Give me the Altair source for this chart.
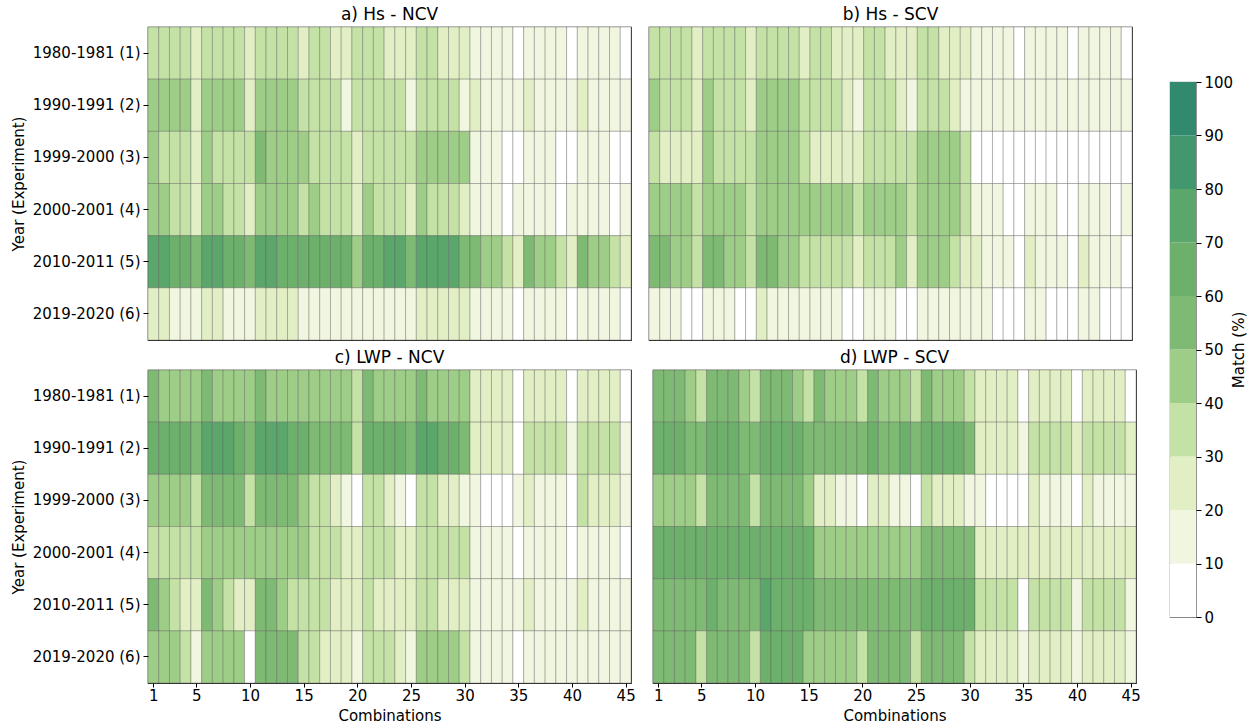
import altair as alt
import pandas as pd

FONT = "DejaVu Sans"

YEARS = ["1980-1981 (1)", "1990-1991 (2)", "1999-2000 (3)",
         "2000-2001 (4)", "2010-2011 (5)", "2019-2020 (6)"]
COMBOS = list(range(1, 46))
X_TICKS = [1, 5, 10, 15, 20, 25, 30, 35, 40, 45]
TITLES = ["a) Hs - NCV", "b) Hs - SCV", "c) LWP - NCV", "d) LWP - SCV"]

# Match (%) per experiment (rows) and combination (columns)
HS_NCV = [
    [35,35,35,35,25, 35,35,35,35,25, 35,35,35,35,25, 35,35,25,25,35, 35,35,25,25,25, 35,35,25,25,25, 15,15,15,15,5, 15,15,15,15,5, 15,15,15,15,5],
    [45,45,45,45,25, 45,45,45,45,25, 45,45,45,45,35, 35,35,35,15,35, 35,35,35,35,15, 35,35,35,35,15, 25,15,15,15,15, 25,15,15,15,15, 25,15,15,15,15],
    [45,35,35,35,25, 45,35,35,35,35, 55,45,45,45,45, 35,35,35,35,25, 35,35,35,35,35, 45,45,45,45,45, 15,15,15,5,5, 15,15,15,5,5, 15,15,15,5,5],
    [45,45,35,35,25, 45,45,35,35,25, 45,45,45,45,35, 45,35,35,35,25, 45,35,35,35,25, 45,35,35,35,25, 15,15,15,5,15, 15,15,15,5,15, 15,15,15,5,15],
    [75,75,65,65,55, 75,75,65,65,55, 75,75,65,65,65, 65,65,65,65,45, 65,65,75,75,55, 75,75,75,75,55, 55,45,45,35,25, 55,45,45,35,25, 55,45,45,35,25],
    [25,25,15,15,15, 25,25,15,15,15, 25,25,25,25,15, 15,15,15,15,15, 15,15,15,15,15, 25,25,25,25,25, 15,15,15,15,5, 15,15,15,15,5, 15,15,15,15,5],
]
HS_SCV = [
    [35,35,35,35,25, 35,35,35,35,25, 35,35,35,35,25, 35,35,25,25,25, 35,35,25,25,25, 35,35,25,25,25, 15,15,15,15,5, 15,15,15,15,5, 15,15,15,15,5],
    [45,35,35,35,25, 45,35,35,35,25, 45,45,45,45,35, 35,35,35,25,15, 35,35,35,25,15, 35,35,35,25,15, 15,15,15,15,15, 15,15,15,15,15, 15,15,15,15,15],
    [35,25,25,25,25, 45,35,35,35,35, 45,45,45,45,35, 25,25,25,25,25, 35,35,35,35,35, 45,45,45,45,35, 5,5,5,5,5, 5,5,5,5,5, 5,5,5,5,5],
    [45,45,45,45,35, 45,45,45,45,35, 45,45,45,45,45, 45,45,45,45,35, 45,45,45,45,35, 45,45,45,45,35, 15,15,15,5,5, 15,15,15,5,5, 15,15,15,5,15],
    [55,55,45,45,35, 55,55,45,45,35, 55,55,45,45,35, 35,35,35,35,25, 35,35,35,45,25, 45,45,45,35,25, 25,15,15,15,5, 25,15,15,15,5, 25,15,15,15,5],
    [15,15,15,5,5, 15,15,15,5,5, 25,15,15,15,15, 15,15,15,5,5, 15,15,15,5,5, 15,15,15,15,15, 15,15,5,5,5, 15,15,5,5,5, 15,15,5,5,5],
]
LWP_NCV = [
    [55,45,45,45,45, 55,45,45,45,45, 55,45,45,45,45, 45,45,45,45,35, 55,45,45,45,45, 55,45,45,45,45, 25,25,25,25,5, 25,25,25,25,5, 25,25,25,25,5],
    [65,65,65,65,55, 75,75,75,65,55, 75,75,75,65,65, 55,55,55,55,35, 65,65,65,65,55, 75,75,65,65,55, 25,25,25,25,5, 35,35,35,35,15, 35,35,35,35,15],
    [45,45,45,45,35, 55,55,55,55,35, 55,55,55,55,45, 35,35,25,15,5, 35,35,25,15,5, 35,35,25,25,15, 15,5,5,5,15, 25,15,15,15,5, 35,25,25,25,15],
    [35,35,35,35,35, 45,45,45,45,45, 45,45,45,45,45, 35,35,35,25,25, 35,35,35,25,25, 35,35,35,35,35, 15,15,15,15,5, 15,15,15,15,5, 15,15,15,15,5],
    [55,45,35,25,25, 55,45,35,25,25, 55,55,45,35,35, 35,35,25,25,25, 35,25,25,25,25, 35,35,25,25,25, 15,15,15,15,15, 25,15,15,15,15, 25,15,15,15,15],
    [45,45,45,35,15, 45,45,45,45,5, 55,55,55,55,35, 35,25,25,25,15, 35,35,35,25,15, 45,45,45,45,35, 15,15,15,15,5, 15,15,15,15,15, 15,15,15,15,15],
]
LWP_SCV = [
    [55,55,55,45,35, 55,55,55,45,35, 55,55,55,45,35, 55,45,45,45,35, 55,45,45,45,35, 55,45,45,45,35, 25,25,25,25,5, 25,25,25,25,5, 25,25,25,25,5],
    [65,65,65,55,55, 65,65,65,55,55, 65,65,65,65,55, 55,55,55,55,55, 65,55,55,65,55, 65,65,65,65,55, 25,25,25,25,15, 35,35,35,35,25, 35,35,35,35,25],
    [45,45,45,45,35, 55,55,55,55,35, 55,55,55,55,45, 25,25,15,15,5, 25,25,15,15,5, 35,25,25,25,15, 15,5,5,5,5, 25,15,15,15,5, 25,15,15,15,15],
    [65,65,65,65,65, 65,65,65,65,65, 65,65,65,65,65, 45,45,45,45,45, 45,45,45,45,45, 55,55,55,55,55, 25,25,25,25,25, 25,25,25,25,25, 25,25,25,25,25],
    [55,55,55,55,55, 65,55,55,55,55, 75,65,65,65,65, 55,55,55,55,55, 55,55,55,55,55, 65,65,65,65,65, 35,35,35,35,5, 35,35,35,35,15, 35,35,35,35,15],
    [55,55,55,55,35, 55,55,55,55,35, 65,65,65,65,45, 45,45,45,45,35, 55,55,55,55,35, 55,55,55,55,35, 25,25,25,25,15, 25,25,25,25,15, 25,25,25,25,15],
]

# Colour classes of 10 % each
BIN_EDGES = [10, 20, 30, 40, 50, 60, 70, 80, 90]
BIN_COLORS = ["#ffffff", "#f0f6e0", "#e2efc5", "#c5e2a6", "#9ecd87",
              "#7fba74", "#6cb06c", "#5aa66b", "#43976f", "#31896e"]
color_scale = alt.Scale(type="threshold", domain=BIN_EDGES, range=BIN_COLORS)

PANEL_W, PANEL_H = 483, 313


def panel(values, title, show_x, show_y):
    rows = []
    for year, row in zip(YEARS, values):
        for c, v in zip(COMBOS, row):
            rows.append({"year": year, "combo": c, "lo": c - 0.5, "hi": c + 0.5, "match": v})
    df = pd.DataFrame(rows)

    if show_x:
        x_axis = alt.Axis(values=X_TICKS, title="Combinations", labelAngle=0,
                          labelFontSize=15, titleFontSize=15, tickSize=4,
                          grid=False, domain=False, labelPadding=1, titlePadding=5)
    else:
        x_axis = None
    if show_y:
        y_axis = alt.Axis(title="Year (Experiment)", labelFontSize=15, titleFontSize=15,
                          tickSize=5, domain=False, labelPadding=3, titlePadding=6)
    else:
        y_axis = None

    return alt.Chart(
        df,
        title=alt.TitleParams(title, fontSize=17, fontWeight="normal", font=FONT, offset=3),
    ).mark_rect(stroke="#4a4a4a", strokeWidth=0.6, strokeOpacity=0.55).encode(
        x=alt.X("lo:Q", scale=alt.Scale(domain=[0.5, 45.5], nice=False, zero=False), axis=x_axis),
        x2="hi:Q",
        y=alt.Y("year:N", sort=YEARS, axis=y_axis),
        color=alt.Color("match:Q", scale=color_scale, legend=None),
    ).properties(width=PANEL_W, height=PANEL_H)


pa = panel(HS_NCV, TITLES[0], False, True)
pb = panel(HS_SCV, TITLES[1], False, False)
pc = panel(LWP_NCV, TITLES[2], True, True)
pd_ = panel(LWP_SCV, TITLES[3], True, False)

grid = alt.vconcat(
    alt.hconcat(pa, pb, spacing=16),
    alt.hconcat(pc, pd_, spacing=16),
    spacing=7,
)

# Colour bar drawn as stacked class blocks
CB_LO = [0, 10, 20, 30, 40, 50, 60, 70, 80, 90]
CB_HI = [10, 20, 30, 40, 50, 60, 70, 80, 90, 100]
CB_MID = [5, 15, 25, 35, 45, 55, 65, 75, 85, 95]
cb_df = pd.DataFrame({"lo": CB_LO, "hi": CB_HI, "mid": CB_MID})

colorbar = alt.Chart(cb_df).mark_rect().encode(
    x=alt.value(0),
    x2=alt.value(26),
    y=alt.Y("lo:Q", scale=alt.Scale(domain=[0, 100], nice=False),
            axis=alt.Axis(orient="right", values=list(range(0, 101, 10)), title="Match (%)",
                          titleAngle=270, labelFontSize=15, titleFontSize=15, tickSize=5,
                          domain=False, grid=False, labelPadding=3, titlePadding=14)),
    y2="hi:Q",
    color=alt.Color("mid:Q", scale=color_scale, legend=None),
).properties(width=26, height=535, view=alt.ViewBackground(stroke="#888888", strokeWidth=1.2))

spacer = alt.Chart(pd.DataFrame({"v": [0]})).mark_point(opacity=0).encode(
    x=alt.value(0), y=alt.value(0)
).properties(width=26, height=55, view=alt.ViewBackground(stroke="transparent"))

cb_col = alt.vconcat(spacer, colorbar, spacing=0, bounds="flush")

chart = alt.hconcat(grid, cb_col, spacing=25).properties(
    padding={"left": 10, "top": 5, "right": 5, "bottom": 3}
).configure(
    font=FONT
).configure_view(
    stroke="#333333", strokeWidth=1.2
).configure_axis(
    labelFont=FONT, titleFont=FONT, labelColor="black", titleColor="black",
    tickColor="black", titleFontWeight="normal"
)

chart.save("out.html", embed_options={"renderer": "svg", "actions": False})
